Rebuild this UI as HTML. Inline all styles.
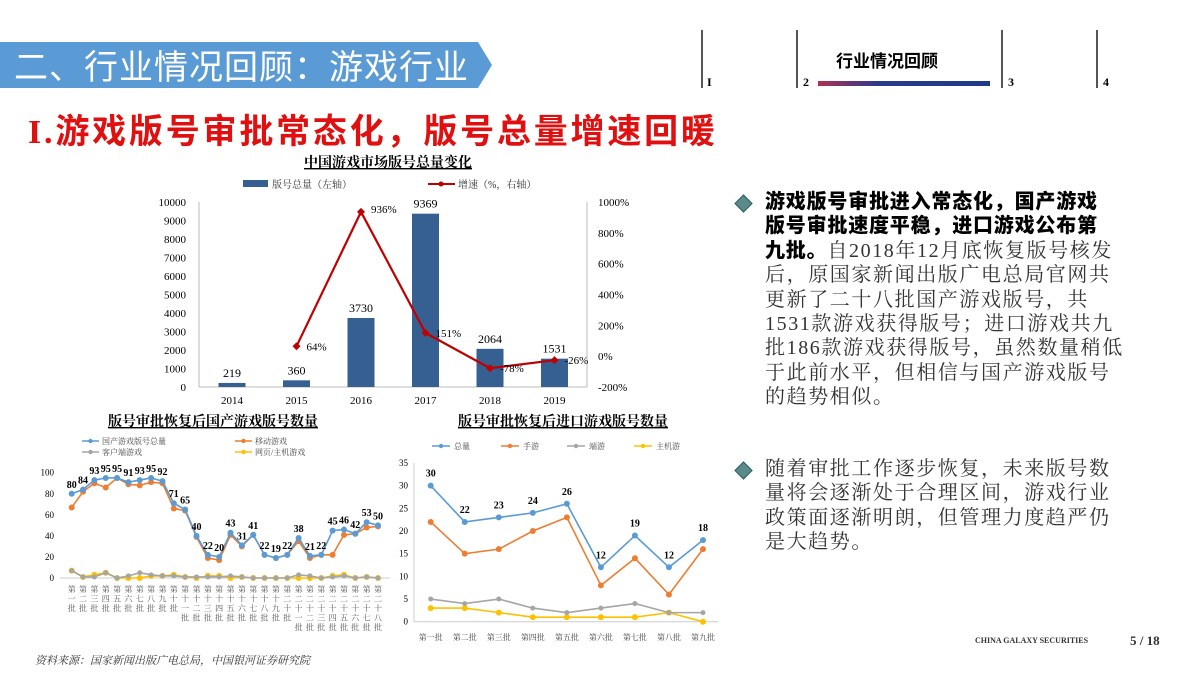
<!DOCTYPE html>
<html><head><meta charset="utf-8">
<style>
body{margin:0;width:1200px;height:675px;overflow:hidden;background:#fff;position:relative;font-family:"Liberation Serif","Noto Serif CJK SC",serif;}
.abs{position:absolute;}
.para{position:absolute;left:765px;width:420px;font-size:20px;letter-spacing:1.6px;line-height:24.4px;color:#333;white-space:nowrap;font-family:"Liberation Serif","Noto Serif CJK SC",serif;}
.para b{color:#000;font-family:"Liberation Sans","Noto Sans CJK SC",sans-serif;font-weight:900;letter-spacing:0.8px;}
.dia{position:absolute;left:737px;width:11px;height:11px;transform:rotate(45deg);background:#5a8a8a;border:1px solid #2f5f5f;}
</style></head><body>
<svg class="abs" style="left:0;top:0" width="1200" height="675">
<polygon points="0,42 478,42 492,65 478,88 0,88" fill="#5b9bd5"/>
<text x="14" y="79" font-size="34" letter-spacing="1" fill="#fff" font-family="Liberation Sans,Noto Sans CJK SC,sans-serif">二、行业情况回顾：游戏行业</text>
<g stroke="#555" stroke-width="2"><line x1="702" y1="30" x2="702" y2="88"/><line x1="797" y1="30" x2="797" y2="88"/><line x1="1002" y1="30" x2="1002" y2="88"/><line x1="1097" y1="30" x2="1097" y2="88"/></g>
<g font-size="12" font-weight="bold" font-family="Liberation Serif,serif"><text x="707" y="86">I</text><text x="803" y="86">2</text><text x="1008" y="86">3</text><text x="1103" y="86">4</text></g>
<text x="836" y="67" font-size="17" font-weight="bold" font-family="Liberation Sans,Noto Sans CJK SC,sans-serif">行业情况回顾</text>
<defs><linearGradient id="ug" x1="0" x2="1"><stop offset="0" stop-color="#b03050"/><stop offset="0.35" stop-color="#2a3a8a"/><stop offset="1" stop-color="#1f3a8a"/></linearGradient></defs>
<rect x="818" y="81" width="172" height="5" fill="url(#ug)"/>
<text x="28" y="143" font-size="34" fill="#e01010" font-weight="bold" letter-spacing="2.8" font-family="Liberation Serif,Noto Sans CJK SC,sans-serif">I.游戏版号审批常态化，版号总量增速回暖</text>
<g id="c1"></g>
<g id="c2"></g>
<g id="c3"></g>
<text x="975" y="643" font-size="8" font-weight="bold" fill="#333" font-family="Liberation Serif,serif">CHINA GALAXY SECURITIES</text>
<text x="1130" y="645" font-size="13" font-weight="bold" fill="#333" font-family="Liberation Serif,serif">5 / 18</text>
<text x="35" y="664" font-size="11" font-style="italic" fill="#333" font-family="Liberation Serif,Noto Serif CJK SC,serif">资料来源：国家新闻出版广电总局，中国银河证券研究院</text>
</svg>
<div class="dia" style="top:197px"></div>
<div class="para" style="top:190px"><b>游戏版号审批进入常态化，国产游戏</b><br><b>版号审批速度平稳，进口游戏公布第</b><br><b>九批。</b>自2018年12月底恢复版号核发<br>后，原国家新闻出版广电总局官网共<br>更新了二十八批国产游戏版号，共<br>1531款游戏获得版号；进口游戏共九<br>批186款游戏获得版号，虽然数量稍低<br>于此前水平，但相信与国产游戏版号<br>的趋势相似。</div>
<div class="dia" style="top:464px"></div>
<div class="para" style="top:457px">随着审批工作逐步恢复，未来版号数<br>量将会逐渐处于合理区间，游戏行业<br>政策面逐渐明朗，但管理力度趋严仍<br>是大趋势。</div>
<script>
const years=["2014","2015","2016","2017","2018","2019"];
const totals=[219,360,3730,9369,2064,1531];
const growth=[null,64,936,151,-78,-26];
const leftTicks=[0,1000,2000,3000,4000,5000,6000,7000,8000,9000,10000];
const rightTicks=[-200,0,200,400,600,800,1000];
const domTotal=[80,84,93,95,95,91,93,95,92,71,65,40,22,20,43,31,41,22,19,22,38,21,22,45,46,42,53,50];
const domMobile=[67,82,90,86,95,89,88,91,90,66,64,39,19,17,41,30,41,22,19,22,35,19,22,22,41,42,48,49];
const domClient=[7,1,1,5,0,2,5,3,2,2,1,1,1,1,2,1,0,0,0,0,3,2,0,1,2,0,1,0];
const domWeb=[7,1,3,5,0,0,0,2,2,3,1,0,2,2,0,1,0,0,0,0,0,0,0,2,3,0,1,0];
const domTicks=[0,20,40,60,80,100];
const batchNums=["一","二","三","四","五","六","七","八","九","十","十一","十二","十三","十四","十五","十六","十七","十八","十九","二十","二十一","二十二","二十三","二十四","二十五","二十六","二十七","二十八"];
const impCats=["第一批","第二批","第三批","第四批","第五批","第六批","第七批","第八批","第九批"];
const impTotal=[30,22,23,24,26,12,19,12,18];
const impMobile=[22,15,16,20,23,8,14,6,16];
const impClient=[5,4,5,3,2,3,4,2,2];
const impConsole=[3,3,2,1,1,1,1,2,0];
const impTicks=[0,5,10,15,20,25,30,35];

const NS="http://www.w3.org/2000/svg";
function mk(p,tag,a,txt){const e=document.createElementNS(NS,tag);for(const k in a)e.setAttribute(k,a[k]);if(txt!=null)e.textContent=txt;p.appendChild(e);return e;}
const SER="Liberation Serif,Noto Serif CJK SC,serif";

(function(){
const g=document.getElementById('c1');
const x0=199,x1=587,yT=202,yB=387;
const xs=i=>232+i*64.5;
const yl=v=>yB-(v/10000)*(yB-yT);
const yr=v=>yB-((v+200)/1200)*(yB-yT);
let t=mk(g,'text',{x:388,y:167,'font-size':14,'font-weight':'bold','text-anchor':'middle','text-decoration':'underline','font-family':SER},'中国游戏市场版号总量变化');


mk(g,'rect',{x:243,y:180,width:25,height:7,fill:'#376092'});
mk(g,'text',{x:272,y:188,'font-size':10,'font-family':SER,fill:'#333'},'版号总量（左轴）');
mk(g,'line',{x1:428,y1:184,x2:455,y2:184,stroke:'#c00000','stroke-width':2});
mk(g,'circle',{cx:441,cy:184,r:2.5,fill:'#c00000'});
mk(g,'text',{x:458,y:188,'font-size':10,'font-family':SER,fill:'#333'},'增速（%，右轴）');
mk(g,'line',{x1:x0,y1:yT,x2:x0,y2:yB,stroke:'#bbb'});
mk(g,'line',{x1:x1,y1:yT,x2:x1,y2:yB,stroke:'#bbb'});
mk(g,'line',{x1:x0,y1:yB,x2:x1,y2:yB,stroke:'#bbb'});
leftTicks.forEach(v=>mk(g,'text',{x:186,y:yl(v)+4,'font-size':11,'text-anchor':'end','font-family':SER},v));
rightTicks.forEach(v=>mk(g,'text',{x:598,y:yr(v)+4,'font-size':11,'font-family':SER},v+'%'));
years.forEach((y,i)=>mk(g,'text',{x:xs(i),y:404,'font-size':11,'text-anchor':'middle','font-family':SER},y));
totals.forEach((v,i)=>{
 const b=mk(g,'rect',{x:xs(i)-13.5,y:yl(v),width:27,height:yB-yl(v),fill:'#376092'});
 
 
 mk(g,'text',{x:xs(i),y:yl(v)-6,'font-size':12,'text-anchor':'middle','font-family':SER},v);
});
let pts=[];growth.forEach((v,i)=>{if(v!=null)pts.push(xs(i)+','+yr(v));});
const ln=mk(g,'polyline',{points:pts.join(' '),fill:'none',stroke:'#c00000','stroke-width':2.2});


growth.forEach((v,i)=>{if(v==null)return;
 mk(g,'path',{d:`M${xs(i)} ${yr(v)-4}l4 4l-4 4l-4 -4z`,fill:'#c00000'});
 mk(g,'text',{x:xs(i)+10,y:yr(v)+(i==2?1:4),'font-size':11,'font-family':SER},v+'%');
});
})();

function lineChart(g,cfg){
 const {x0,xa,xb,yT,yB,max,ticks,series,labels}=cfg;
 const n=series[0].data.length;
 const xs=i=>xa+i*(xb-xa)/(n-1);
 const ys=v=>yB-v/max*(yB-yT);
 ticks.forEach(v=>mk(g,'text',{x:x0-6,y:ys(v)+3,'font-size':9,'text-anchor':'end','font-family':SER},v));
 if(cfg.axis){mk(g,'line',{x1:x0,y1:yT,x2:x0,y2:yB,stroke:'#ccc'});}
 mk(g,'line',{x1:x0,y1:yB,x2:cfg.xEnd,y2:yB,stroke:'#ccc'});
 series.slice().reverse().forEach(s=>{
  const p=mk(g,'polyline',{points:s.data.map((v,i)=>xs(i)+','+ys(v)).join(' '),fill:'none',stroke:s.c,'stroke-width':1.6});
  
  
  s.data.forEach((v,i)=>mk(g,'circle',{cx:xs(i),cy:ys(v),r:s.r,fill:s.c}));
 });
 labels.forEach((v,i)=>mk(g,'text',{x:xs(i),y:ys(v)-cfg.lo,'font-size':cfg.lf,'font-weight':'bold','text-anchor':'middle','font-family':SER},v));
 return xs;
}

(function(){
const g=document.getElementById('c2');
let t=mk(g,'text',{x:213,y:426,'font-size':14,'font-weight':'bold','text-anchor':'middle','text-decoration':'underline','font-family':SER},'版号审批恢复后国产游戏版号数量');


const leg=[["国产游戏版号总量",'#5b9bd5',82,441],["移动游戏",'#ed7d31',235,441],["客户端游戏",'#a5a5a5',82,452],["网页/主机游戏",'#ffc000',235,452]];
leg.forEach(l=>{mk(g,'line',{x1:l[2],y1:l[3],x2:l[2]+17,y2:l[3],stroke:l[1],'stroke-width':1.5});mk(g,'circle',{cx:l[2]+8.5,cy:l[3],r:2.2,fill:l[1]});mk(g,'text',{x:l[2]+20,y:l[3]+3,'font-size':8,'font-family':SER,fill:'#444'},l[0]);});
const xs=lineChart(g,{x0:60,xa:71.7,xb:378,yT:472.7,yB:578,max:100,ticks:domTicks,xEnd:390,lo:6,lf:10,
 series:[{name:'domestic-total-line',data:domTotal,c:'#5b9bd5',r:3},{name:'domestic-mobile-line',data:domMobile,c:'#ed7d31',r:3},{name:'domestic-client-line',data:domClient,c:'#a5a5a5',r:2.5},{name:'domestic-web-line',data:domWeb,c:'#ffc000',r:3}],labels:domTotal});
batchNums.forEach((b,i)=>{
 const chars=('第'+b+'批').split('');
 chars.forEach((c,j)=>mk(g,'text',{x:xs(i),y:592+j*9.5,'font-size':8,'text-anchor':'middle','font-family':SER,fill:'#555'},c));
});
})();

(function(){
const g=document.getElementById('c3');
let t=mk(g,'text',{x:563,y:426,'font-size':14,'font-weight':'bold','text-anchor':'middle','text-decoration':'underline','font-family':SER},'版号审批恢复后进口游戏版号数量');


const leg=[["总量",'#5b9bd5',432],["手游",'#ed7d31',501],["端游",'#a5a5a5',567],["主机游",'#ffc000',634]];
leg.forEach(l=>{mk(g,'line',{x1:l[2],y1:446,x2:l[2]+18,y2:446,stroke:l[1],'stroke-width':1.5});mk(g,'circle',{cx:l[2]+9,cy:446,r:2.2,fill:l[1]});mk(g,'text',{x:l[2]+22,y:449,'font-size':8,'font-family':SER,fill:'#444'},l[0]);});
const xs=lineChart(g,{x0:414,xa:430.7,xb:703,yT:463,yB:621.7,max:35,ticks:impTicks,axis:true,xEnd:718,lo:9,lf:10,
 series:[{name:'import-total-line',data:impTotal,c:'#5b9bd5',r:3},{name:'import-mobile-line',data:impMobile,c:'#ed7d31',r:3},{name:'import-client-line',data:impClient,c:'#a5a5a5',r:2.5},{name:'import-console-line',data:impConsole,c:'#ffc000',r:3}],labels:impTotal});
impCats.forEach((c,i)=>mk(g,'text',{x:xs(i),y:640,'font-size':8,'text-anchor':'middle','font-family':SER,fill:'#444'},c));
})();
</script>
</body></html>
